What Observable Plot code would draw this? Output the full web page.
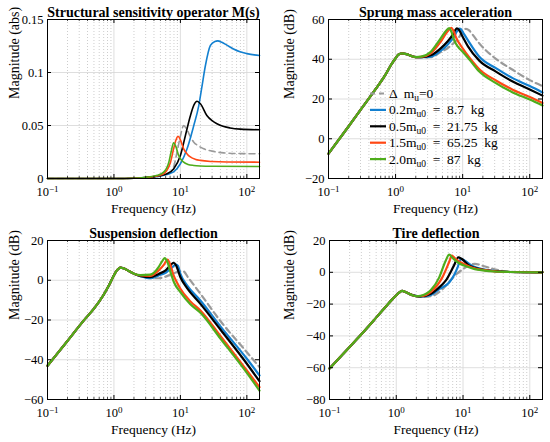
<!DOCTYPE html>
<html>
<head>
<meta charset="utf-8">
<script src="https://cdn.jsdelivr.net/npm/d3@7"></script>
<script src="https://cdn.jsdelivr.net/npm/@observablehq/plot@0.6"></script>
<style>
  body { margin: 0; background: #fff; }
  #wrap { position: relative; width: 550px; height: 442px; background: #fff; }
  #wrap svg { position: absolute; }
  #wrap svg text { font-family: "Liberation Serif", "Times New Roman", serif; }
</style>
</head>
<body>
<div id="wrap"></div>
<script>
// ---------- shared labels / ticks ----------
const freqTicks = [0.1, 1, 10, 100];
const freqMinor = [0.2,0.3,0.4,0.5,0.6,0.7,0.8,0.9, 2,3,4,5,6,7,8,9, 20,30,40,50,60,70,80,90];
const freqDomain = [0.1, 155];
const seriesLabels = [
  ["Δ  m", "u", "=0"],
  ["0.2m", "u0", "  =  8.7  kg"],
  ["0.5m", "u0", "  =  21.75  kg"],
  ["1.5m", "u0", "  =  65.25  kg"],
  ["2.0m", "u0", "  =  87  kg"]
];
const seriesColors = ["#9a9a9a", "#1380d0", "#000000", "#ff4814", "#4ead1b"];

// ---------- Panel 1: structural sensitivity operator M(s) (abs) ----------
const sensLow = [[0.1,0],[1,0],[2,0.0003]];
const sensBase = [[3,0.0008],[5,0.0025],[7,0.006],[8,0.012],[9.1,0.028],[10,0.04],[11.2,0.05],[12.3,0.047],[14,0.04],[15.9,0.0343],[19,0.0305],[22.4,0.028],[30,0.0258],[45,0.0242],[80,0.0235],[155,0.0233]];
const sens02 = [[3,0.0008],[4,0.0015],[5,0.0025],[6,0.0035],[7,0.0048],[8,0.0065],[10,0.0139],[12.6,0.028],[15.9,0.05],[18.8,0.068],[21,0.086],[23.8,0.1066],[28.3,0.1255],[33,0.1293],[36.4,0.1298],[42,0.1285],[50,0.1258],[63,0.1222],[79,0.1195],[100,0.1178],[155,0.116]];
const sens05 = [[3,0.001],[4,0.0018],[5,0.0028],[6.3,0.0045],[7.9,0.009],[10,0.0217],[11.9,0.0406],[14.1,0.059],[16,0.0695],[17.8,0.0729],[20,0.0705],[25,0.0594],[30,0.0545],[35.5,0.0516],[45,0.049],[56,0.0477],[80,0.0466],[155,0.046]];
const sens15 = [[3,0.001],[4.5,0.0025],[5.6,0.0044],[6.3,0.008],[7.1,0.0154],[7.9,0.028],[8.6,0.0365],[9.2,0.0399],[10,0.0365],[11.2,0.028],[12.6,0.0232],[14.1,0.0203],[17,0.018],[20,0.0171],[30,0.016],[50,0.0155],[155,0.0154]];
const sens20 = [[3,0.0012],[4.5,0.003],[5.6,0.006],[6.7,0.0154],[7.3,0.026],[7.9,0.0337],[8.5,0.0305],[9.4,0.0217],[11.2,0.0154],[13,0.0133],[15.9,0.0123],[20,0.0118],[30,0.0115],[155,0.0113]];
const sensTicks = [0, 0.05, 0.1, 0.15];

// ---------- Panel 2: sprung mass acceleration (dB) ----------
const accLow = [[0.1,-7.5],[0.2,6.3],[0.3,14.5],[0.5,24.8],[0.7,32],[0.85,37],[1.0,40.5],[1.1,42.3],[1.25,43],[1.45,42.6],[1.7,41.7],[2.0,41.1]];
const accBase = [[2.4,40.9],[3.35,41],[4.7,43.6],[5.9,45.5],[7.5,48.5],[9,51.5],[10,54],[11.2,55.3],[12.5,54.5],[14,52.5],[17.7,48],[31.3,40.2],[55.7,34.7],[100,29.5],[155,26.5]];
const acc02 = [[2.4,41],[3.35,41.3],[4.7,44.2],[5.9,47.2],[7.3,51],[8.2,54],[8.9,55.4],[9.5,55],[10,53.8],[12,49.5],[17.7,41.3],[31.3,35.5],[55.7,30.5],[100,26.5],[155,23.3]];
const acc05 = [[2.4,41.1],[3.35,42],[4.7,45.5],[5.9,48.8],[7,52],[7.7,54.5],[8.2,55.6],[8.8,54.8],[10,51.3],[12,46.5],[17.7,39.3],[31.3,33.8],[55.7,28.8],[100,24.8],[155,21.7]];
const acc15 = [[2.4,41.2],[3.35,43],[4.7,48.8],[5.9,53.8],[6.8,55.8],[7.3,54.3],[8,50.8],[10,45.5],[13,40.3],[17.7,35],[31.3,29.3],[55.7,24.7],[100,21],[155,18]];
const acc20 = [[2.4,41.3],[3.35,43.8],[4.7,50.5],[5.5,53.8],[6.3,55.7],[6.8,53.8],[7.5,49.5],[8.5,46.3],[10,43.8],[13,39.3],[17.7,33.8],[31.3,28],[55.7,23.3],[100,19.7],[155,16.7]];
const accTicks = [-20, 0, 20, 40, 60];

// ---------- Panel 3: suspension deflection (dB) ----------
const defLow = [[0.1,-43],[0.13,-38.3],[0.2,-30.5],[0.35,-20.3],[0.5,-14.3],[0.7,-7.3],[0.85,-2.3],[1.0,2.5],[1.1,4.8],[1.25,6.4],[1.4,6],[1.7,4.5],[2.0,3.3]];
const defBase = [[2.5,2.1],[3.5,1.1],[4.7,1.0],[6,1.8],[8,3.5],[10,4.5],[11.2,4.4],[13,1.5],[20,-6.8],[40,-20.5],[100,-36.2],[155,-43.7]];
const def02 = [[2.5,2.1],[3.5,1.0],[4.7,2.4],[6,3.8],[7.5,6.5],[8.6,7.9],[9.2,7.2],[10,3.2],[12.6,-2.6],[20,-10.2],[40,-23.2],[100,-39.5],[155,-47.9]];
const def05 = [[2.5,2.2],[3.5,1.6],[4.7,3.2],[6,5],[7,7.3],[7.9,8.8],[8.6,7.5],[10,1.5],[12.6,-4],[20,-11.9],[40,-24.8],[100,-42],[155,-50.8]];
const def15 = [[2.5,2.4],[3.5,2.2],[4.7,4.9],[5.7,8],[6.4,10.4],[7,8],[7.9,2.4],[9,-1.5],[10,-4.3],[14,-10.5],[20,-15.2],[40,-28],[100,-45.4],[155,-53.8]];
const def20 = [[2.5,2.6],[3.5,2.8],[4.7,6.6],[5.3,9.5],[5.8,11.1],[6.4,9],[7.1,4.1],[8,-1],[10,-6],[14,-12],[20,-16.4],[40,-29.3],[100,-46.6],[155,-55.5]];
const defTicks = [-60, -40, -20, 0, 20];

// ---------- Panel 4: tire deflection (dB) ----------
const tireLow = [[0.1,-60.5],[0.2,-47],[0.3,-39],[0.5,-28.5],[0.7,-21.5],[0.85,-17.5],[1.0,-14.5],[1.1,-12.8],[1.22,-11.7],[1.4,-12.6],[1.7,-14.2],[2.0,-15]];
const tireBase = [[2.3,-15.5],[3.3,-15],[4.9,-10.8],[6.5,-5],[8,-1.1],[10,2],[12,4.3],[15,5.3],[20,4],[28,2.2],[40,0.8],[60,0.2],[155,0]];
const tire02 = [[2.3,-15.3],[3.3,-14.2],[4.4,-10.5],[6.2,-6.4],[7.5,-1],[8.3,3.1],[9.3,8.4],[10.5,7.5],[13.5,4.2],[17,2.6],[22,1.5],[30,0.8],[50,0.2],[155,0]];
const tire05 = [[2.3,-15.2],[3.3,-13.5],[4.4,-9.5],[5.5,-5.3],[7.3,4.2],[8.5,9.4],[9.5,8.5],[12.4,4.2],[15,2.8],[20,1.5],[30,0.7],[50,0.2],[155,0]];
const tire15 = [[2.3,-15],[3.3,-12.3],[4.9,-3.2],[6.2,6.5],[6.8,10.5],[7.5,9],[9,6.5],[12,4],[15,2.5],[20,1.5],[30,0.6],[50,0.2],[155,0]];
const tire20 = [[2.3,-14.8],[3.3,-11.2],[4.4,-3.2],[5.5,7.3],[6.2,11.1],[7,9],[8.5,6],[11.7,3.5],[15,2],[20,1.2],[30,0.5],[50,0.2],[155,0]];
const tireTicks = [-80, -60, -40, -20, 0, 20];

// ---------- helpers ----------
const NS = "http://www.w3.org/2000/svg";
const FONT = "Liberation Serif";
const fmtY = d => d < 0 ? "\u2212" + (-d) : String(d);

function makePanel(cfg) {
  const W = 275, H = 221, mt = 19, mb = 43;
  const iw = W - cfg.ml - cfg.mr, ih = H - mt - mb;
  const lines = cfg.series.map((pts, i) => Plot.line(cfg.low.concat(pts), {
    x: d => d[0], y: d => d[1],
    stroke: seriesColors[i], strokeWidth: cfg.lw,
    curve: "monotone-x",
    ...(i === 0 ? {strokeDasharray: "6,4"} : {})
  }));
  const svg = Plot.plot({
    width: W, height: H,
    marginLeft: cfg.ml, marginRight: cfg.mr, marginTop: mt, marginBottom: mb,
    style: {fontFamily: FONT, fontSize: "12.5px", background: "transparent", color: "#000", overflow: "visible"},
    x: {type: "log", domain: freqDomain},
    y: {domain: cfg.yDomain},
    marks: [
      Plot.ruleX(freqMinor, {x: d => d, stroke: "#b8b8b8", strokeWidth: 0.7, strokeDasharray: "1,2"}),
      Plot.ruleX(freqTicks, {x: d => d, stroke: "#d6d6d6", strokeWidth: 0.8}),
      Plot.ruleY(cfg.yTicks, {y: d => d, stroke: "#d6d6d6", strokeWidth: 0.8}),
      ...lines,
      Plot.tickX(freqTicks, {x: d => d, insetTop: ih - 4, stroke: "#000"}),
      Plot.tickX(freqTicks, {x: d => d, insetBottom: ih - 4, stroke: "#000"}),
      Plot.tickX(freqMinor, {x: d => d, insetTop: ih - 2, stroke: "#000", strokeWidth: 0.7}),
      Plot.tickX(freqMinor, {x: d => d, insetBottom: ih - 2, stroke: "#000", strokeWidth: 0.7}),
      Plot.tickY(cfg.yTicks, {y: d => d, insetRight: iw - 4, stroke: "#000"}),
      Plot.tickY(cfg.yTicks, {y: d => d, insetLeft: iw - 4, stroke: "#000"}),
      Plot.frame({stroke: "#000", strokeWidth: 1}),
      Plot.axisX(freqTicks, {tickSize: 0, tickPadding: 9, label: null, fontSize: 12.5, fontFamily: FONT,
        tickFormat: d => String(Math.round(Math.log10(d)))}),
      Plot.axisY(cfg.yTicks, {tickSize: 0, tickPadding: 4, label: null, fontSize: 12.5, fontFamily: FONT,
        tickFormat: fmtY}),
      Plot.text([cfg.title], {text: d => d, frameAnchor: "top", dy: -7, lineAnchor: "middle",
        fontWeight: "bold", fontSize: 14, fontFamily: FONT}),
      Plot.text([cfg.ylabel], {text: d => d, frameAnchor: "left", dx: 14 - cfg.ml, rotate: -90,
        lineAnchor: "middle", fontSize: 14, fontFamily: FONT}),
      Plot.text(["Frequency (Hz)"], {text: d => d, frameAnchor: "bottom", dy: 30, lineAnchor: "middle",
        fontSize: 13.5, fontFamily: FONT})
    ]
  });
  // superscript exponents on the decade tick labels
  svg.querySelectorAll('g[aria-label="x-axis tick label"] text').forEach(t => {
    const e = t.textContent.replace("-", "\u2212");
    t.textContent = "";
    const a = document.createElementNS(NS, "tspan");
    a.textContent = "10";
    const b = document.createElementNS(NS, "tspan");
    b.setAttribute("dy", "-0.5em");
    b.setAttribute("font-size", "9");
    b.textContent = e;
    t.append(a, b);
  });
  svg.style.left = cfg.left + "px";
  svg.style.top = cfg.top + "px";
  return svg;
}

function addLegend(svg) {
  const g = d3.select(svg).append("g")
    .attr("font-family", FONT).attr("font-size", 13.5).attr("text-anchor", "start");
  seriesLabels.forEach((lab, i) => {
    const y = 93.5 + 16.4 * i;
    g.append("line").attr("x1", 95).attr("x2", 111).attr("y1", y).attr("y2", y)
      .attr("stroke", seriesColors[i]).attr("stroke-width", 2.2)
      .attr("stroke-dasharray", i === 0 ? "5,4" : null);
    const t = g.append("text").attr("x", 114).attr("y", y + 4.5)
      .attr("text-anchor", "start").style("white-space", "pre");
    t.append("tspan").text(lab[0]);
    t.append("tspan").attr("dy", 3).attr("font-size", 9.5).text(lab[1]);
    t.append("tspan").attr("dy", -3).text(lab[2]);
  });
}

const wrap = document.getElementById("wrap");
const p1 = makePanel({title: "Structural sensitivity operator M(s)", ylabel: "Magnitude (abs)",
  yDomain: [0, 0.15], yTicks: sensTicks, low: sensLow,
  series: [sensBase, sens02, sens05, sens15, sens20], ml: 47, mr: 16, left: 0, top: 0, lw: 1.6});
const p2 = makePanel({title: "Sprung mass acceleration", ylabel: "Magnitude (dB)",
  yDomain: [-20, 60], yTicks: accTicks, low: accLow,
  series: [accBase, acc02, acc05, acc15, acc20], ml: 53, mr: 8, left: 275, top: 0, lw: 2.2});
const p3 = makePanel({title: "Suspension deflection", ylabel: "Magnitude (dB)",
  yDomain: [-60, 20], yTicks: defTicks, low: defLow,
  series: [defBase, def02, def05, def15, def20], ml: 47, mr: 16, left: 0, top: 221, lw: 2.2});
const p4 = makePanel({title: "Tire deflection", ylabel: "Magnitude (dB)",
  yDomain: [-80, 20], yTicks: tireTicks, low: tireLow,
  series: [tireBase, tire02, tire05, tire15, tire20], ml: 54, mr: 8, left: 275, top: 221, lw: 2.2});
addLegend(p2);
wrap.append(p1, p2, p3, p4);
</script>
</body>
</html>
